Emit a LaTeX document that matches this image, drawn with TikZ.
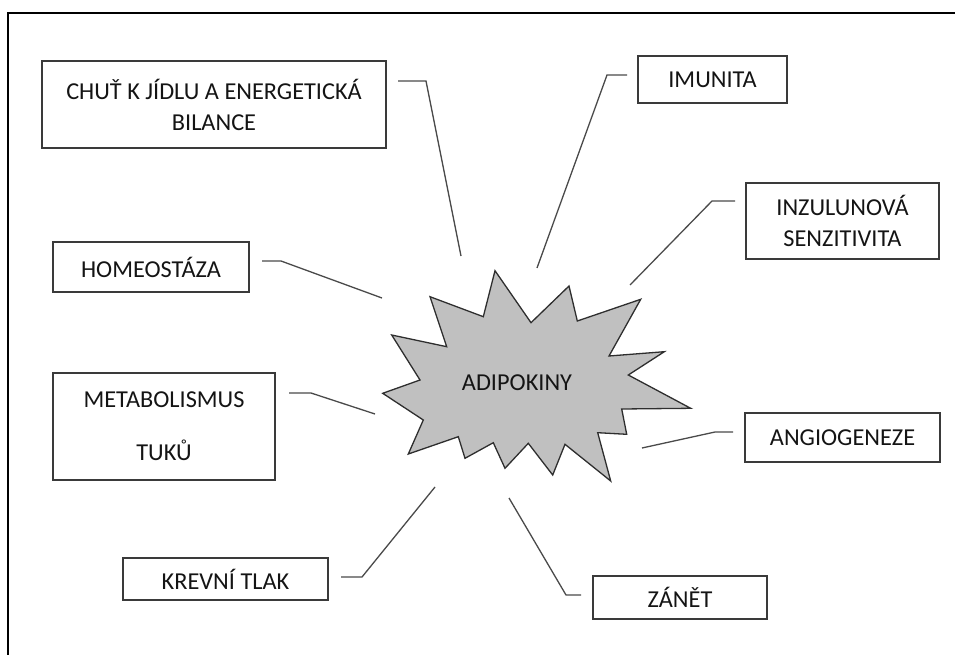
\documentclass[tikz,border=0pt]{standalone}
\usepackage{fontspec}
\setmainfont{Carlito}
\definecolor{boxc}{HTML}{3A3A3A}
\definecolor{connc}{HTML}{4A4A4A}
\definecolor{starc}{HTML}{C0C0C0}
\definecolor{starb}{HTML}{2E2E2E}
\definecolor{txt}{HTML}{141414}
\begin{document}
\begin{tikzpicture}[x=1pt,y=-1pt,
  box/.style={draw=boxc,line width=1.5pt,inner sep=0pt,align=center,text=txt,
              font=\fontsize{24.3}{31}\selectfont},
  conn/.style={draw=connc,line width=1.3pt,line join=miter}]
\useasboundingbox (0,0) rectangle (955,655);
% outer frame
\draw[line width=2.2pt] (8,660) -- (8,13) -- (960,13);
% star
\draw[fill=starc,draw=starb,line width=1.3pt,line join=miter]
 (495.0,270.7) -- (531.0,322.7) -- (569.0,286.0) -- (577.3,321.0) -- (640.7,299.3)
 -- (609.0,356.0) -- (664.3,351.7) -- (628.3,375.0) -- (690.7,408.3) -- (621.7,409.0)
 -- (626.7,434.3) -- (597.7,432.7) -- (610.7,481.0) -- (565.0,444.3) -- (552.7,475.0)
 -- (528.3,443.3) -- (505.0,468.3) -- (493.3,442.7) -- (465.0,458.3) -- (458.3,436.7)
 -- (408.3,454.0) -- (423.3,420.0) -- (382.7,393.3) -- (420.0,380.0) -- (391.7,335.0)
 -- (446.7,346.7) -- (430.0,296.7) -- (483.3,316.7) -- cycle;
\node[text=txt,font=\fontsize{24.3}{28}\selectfont,inner sep=0pt] (adipo) at (517,383) {ADIPOKINY};
% boxes
\node[box,minimum width=344,minimum height=87] (chut) at (214,104.5) {CHUŤ K JÍDLU A ENERGETICKÁ\\BILANCE};
\node[box,minimum width=149,minimum height=47] (imun) at (712.5,79.5) {IMUNITA};
\node[box,minimum width=193,minimum height=76] (inzul) at (842.5,221) {INZULUNOVÁ\\SENZITIVITA};
\node[box,minimum width=196,minimum height=50] (homeo) at (151,267) {HOMEOSTÁZA};
\node[box,minimum width=222,minimum height=107] (metab) at (164,426.5) {METABOLISMUS\\[22pt]TUKŮ};
\node[box,minimum width=205,minimum height=42] (krev) at (225.5,579) {KREVNÍ TLAK};
\node[box,minimum width=174,minimum height=43] (zanet) at (680,597.5) {ZÁNĚT};
\node[box,minimum width=195,minimum height=49] (angio) at (842.5,437.5) {ANGIOGENEZE};
% connector points
\coordinate (c1a) at (398,81);  \coordinate (c1b) at (426,81);  \coordinate (c1c) at (461,256);
\coordinate (c2a) at (627,75);  \coordinate (c2b) at (607,75);  \coordinate (c2c) at (537,268);
\coordinate (c3a) at (735,201); \coordinate (c3b) at (712,201); \coordinate (c3c) at (630,285);
\coordinate (c4a) at (262,261); \coordinate (c4b) at (281,261); \coordinate (c4c) at (382,298);
\coordinate (c5a) at (289,393); \coordinate (c5b) at (311,393); \coordinate (c5c) at (375,414);
\coordinate (c6a) at (341,577); \coordinate (c6b) at (362,577); \coordinate (c6c) at (435,487);
\coordinate (c7a) at (581,595); \coordinate (c7b) at (566,595); \coordinate (c7c) at (509,498);
\coordinate (c8a) at (733,432); \coordinate (c8b) at (715,432); \coordinate (c8c) at (642,448);
\draw[conn] (c1a) -- (c1b) -- (c1c);
\draw[conn] (c2a) -- (c2b) -- (c2c);
\draw[conn] (c3a) -- (c3b) -- (c3c);
\draw[conn] (c4a) -- (c4b) -- (c4c);
\draw[conn] (c5a) -- (c5b) -- (c5c);
\draw[conn] (c6a) -- (c6b) -- (c6c);
\draw[conn] (c7a) -- (c7b) -- (c7c);
\draw[conn] (c8a) -- (c8b) -- (c8c);
\end{tikzpicture}
\end{document}
